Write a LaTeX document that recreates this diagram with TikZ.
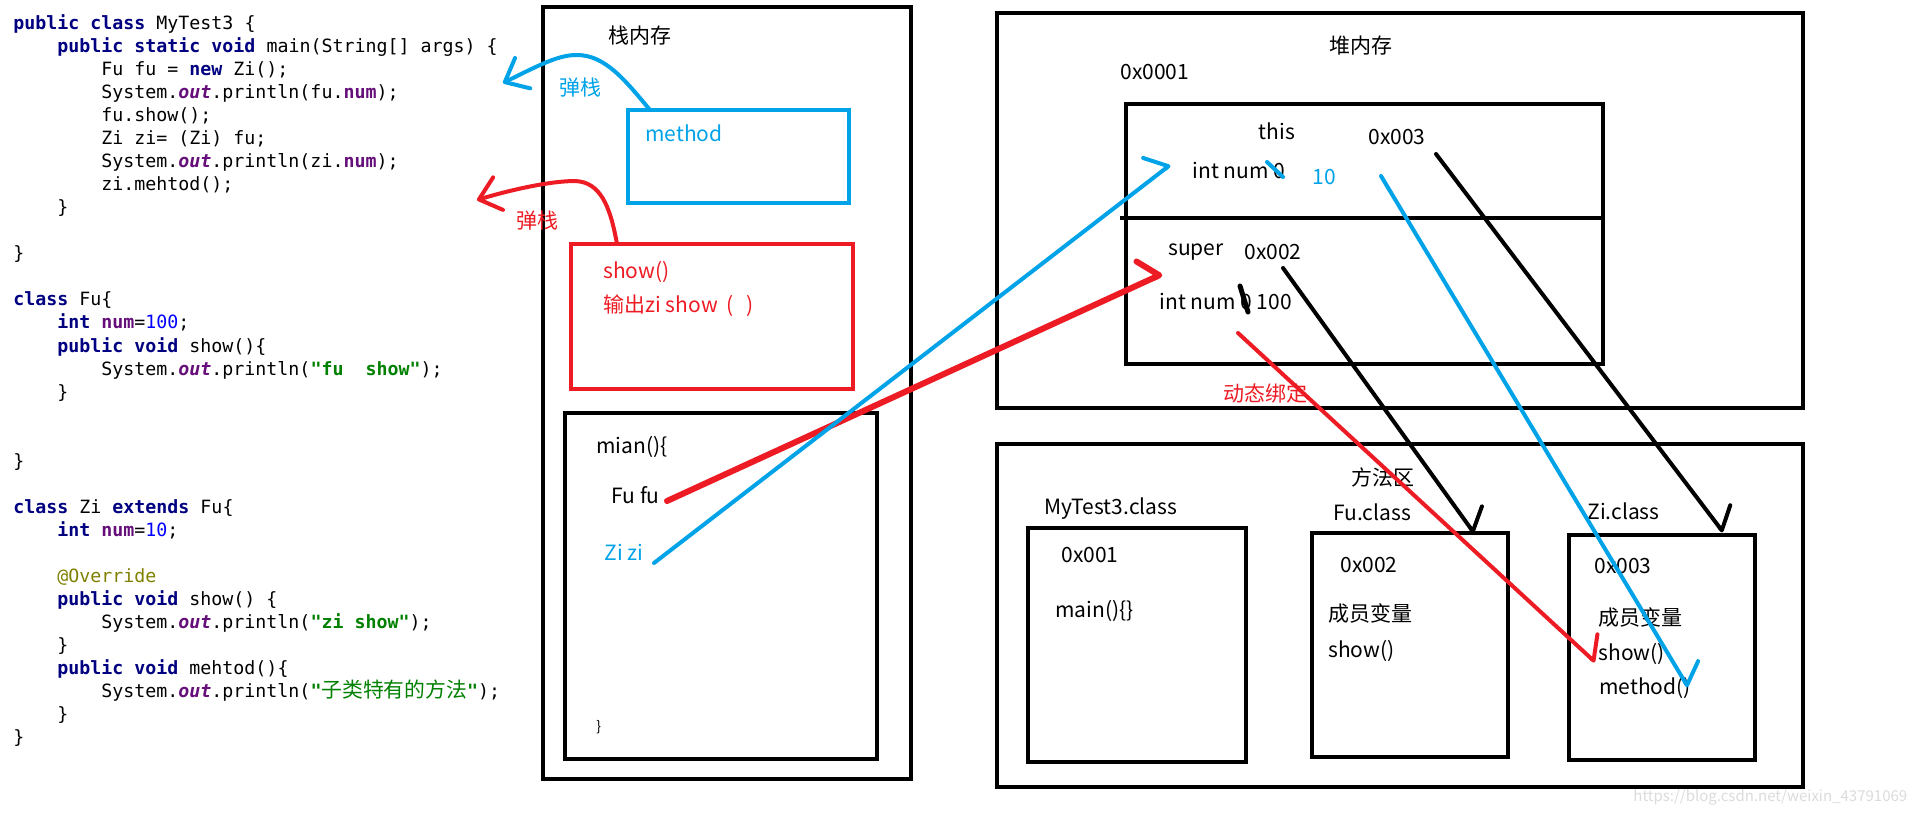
\documentclass[tikz,border=0pt]{standalone}
\usepackage{fontspec}
\usetikzlibrary{arrows.meta}

\newfontfamily\cjk{Noto Sans CJK SC}
\newfontfamily\codefont{DejaVu Sans Mono}

\definecolor{paintblue}{RGB}{0,162,232}
\definecolor{paintred}{RGB}{237,28,36}
\definecolor{kwnavy}{RGB}{0,0,128}
\definecolor{fieldpurple}{RGB}{102,14,122}
\definecolor{numblue}{RGB}{0,0,255}
\definecolor{strgreen}{RGB}{0,128,0}
\definecolor{annolive}{RGB}{128,128,0}

\newcommand{\jkw}[1]{\textcolor{kwnavy}{\bfseries #1}}
\newcommand{\jfield}[1]{\textcolor{fieldpurple}{\bfseries #1}}
\newcommand{\jstatic}[1]{\textcolor{fieldpurple}{\bfseries\itshape #1}}
\newcommand{\jnum}[1]{\textcolor{numblue}{#1}}
\newcommand{\jstr}[1]{\textcolor{strgreen}{\bfseries #1}}
\newcommand{\jann}[1]{\textcolor{annolive}{#1}}
\newcommand{\codeline}[3]{\node[codetext] (code#1) at ({13+44*#2},{24.5+23.03*#1}) {#3};}

\tikzset{
  frame/.style={draw, line width=2pt, inner sep=0pt, outer sep=0pt, anchor=north west},
  lbl/.style={font=\cjk\fontsize{10.5pt}{12pt}\selectfont, inner sep=0pt, text height=7.9pt, text depth=1.6pt},
  codetext/.style={font=\codefont\fontsize{9.14pt}{11pt}\selectfont, inner sep=0pt, anchor=west, text height=6.9pt, text depth=1.8pt},
  pen/.style={line width=2pt, line cap=round, line join=round},
  onebarb/.style={-{Straight Barb[harpoon, length=7.5pt, width=22pt, round]}},
  twobarb/.style={-{Straight Barb[length=10pt, width=17pt, round]}},
}

\begin{document}
\begin{tikzpicture}[x=0.5pt, y=-0.5pt]
  \useasboundingbox (0,0) rectangle (1914,814);

  \codeline{0}{0}{\jkw{public class} MyTest3 \{}
  \codeline{1}{1}{\jkw{public static void} main(String[] args) \{}
  \codeline{2}{2}{Fu fu = \jkw{new} Zi();}
  \codeline{3}{2}{System.\jstatic{out}.println(fu.\jfield{num});}
  \codeline{4}{2}{fu.show();}
  \codeline{5}{2}{Zi zi= (Zi) fu;}
  \codeline{6}{2}{System.\jstatic{out}.println(zi.\jfield{num});}
  \codeline{7}{2}{zi.mehtod();}
  \codeline{8}{1}{\}}
  \codeline{10}{0}{\}}
  \codeline{12}{0}{\jkw{class} Fu\{}
  \codeline{13}{1}{\jkw{int} \jfield{num}=\jnum{100};}
  \codeline{14}{1}{\jkw{public void} show()\{}
  \codeline{15}{2}{System.\jstatic{out}.println(\jstr{"fu\ \ show"});}
  \codeline{16}{1}{\}}
  \codeline{19}{0}{\}}
  \codeline{21}{0}{\jkw{class} Zi \jkw{extends} Fu\{}
  \codeline{22}{1}{\jkw{int} \jfield{num}=\jnum{10};}
  \codeline{24}{1}{\jann{@Override}}
  \codeline{25}{1}{\jkw{public void} show() \{}
  \codeline{26}{2}{System.\jstatic{out}.println(\jstr{"zi show"});}
  \codeline{27}{1}{\}}
  \codeline{28}{1}{\jkw{public void} mehtod()\{}
  \codeline{29}{2}{System.\jstatic{out}.println(\jstr{"{\cjk\mdseries\fontsize{10.4pt}{11pt}\selectfont 子类特有的方法}"});}
  \codeline{30}{1}{\}}
  \codeline{31}{0}{\}}

  \node[frame, minimum width=184pt, minimum height=386pt] (stack) at (543,7) {};
  \node[frame, draw=paintblue, minimum width=110.5pt, minimum height=46.5pt] (methodframe) at (628,110) {};
  \node[frame, draw=paintred, minimum width=141pt, minimum height=72.5pt] (showframe) at (571,244) {};
  \node[frame, minimum width=156pt, minimum height=173pt] (mainframe) at (565,413) {};

  \node[lbl] (stacktitle) at (640,37) {栈内存};
  \node[lbl, text=paintblue] (popblue) at (580,89) {弹栈};
  \node[lbl, text=paintred] (popred) at (537,222) {弹栈};
  \node[lbl, text=paintblue, anchor=west] (methodtxt) at (645,135) {method};
  \node[lbl, text=paintred, anchor=west] (showtxt) at (603,272) {show()};
  \node[lbl, text=paintred, anchor=west] (printtxt) at (603,306) {输出zi show\hspace{4.5pt}(\hspace{6pt})};
  \node[lbl, anchor=west] (maintxt) at (596,447) {mian()\{};
  \node[lbl, anchor=west] (fuvar) at (611,497) {Fu fu};
  \node[lbl, text=paintblue, anchor=west] (zivar) at (604,554) {Zi zi};
  \node[lbl, anchor=west, font=\cjk\fontsize{7pt}{8pt}\selectfont] (mainclose) at (596,725) {\}};

  \node[frame, minimum width=403pt, minimum height=197.5pt] (heap) at (997,13) {};
  \node[frame, minimum width=238.5pt, minimum height=130pt] (objframe) at (1126,104) {};
  \draw[line width=2pt] (1120,218) -- (1603,218);

  \node[lbl] (heaptitle) at (1361,47) {堆内存};
  \node[lbl, anchor=west] (objaddr) at (1120,73) {0x0001};
  \node[lbl] (thistxt) at (1277,133) {this};
  \node[lbl, anchor=west] (thisnum) at (1192,172) {int num 0};
  \node[lbl, text=paintblue] (tenval) at (1324,178) {10};
  \node[lbl, anchor=west] (thisaddr) at (1368,138) {0x003};
  \node[lbl] (supertxt) at (1196,249) {super};
  \node[lbl, anchor=west] (superaddr) at (1244,253) {0x002};
  \node[lbl, anchor=west] (supernum) at (1159,303) {int num 0 100};
  \node[lbl, text=paintred] (bindtxt) at (1265,395) {动态绑定};

  \node[frame, minimum width=403pt, minimum height=171.5pt] (methodarea) at (997,444) {};
  \node[frame, minimum width=109pt, minimum height=117pt] (mytestframe) at (1028,528) {};
  \node[frame, minimum width=98pt, minimum height=112pt] (fuframe) at (1312,533) {};
  \node[frame, minimum width=93pt, minimum height=112.5pt] (ziframe) at (1569,535) {};

  \node[lbl] (areatitle) at (1383,479) {方法区};
  \node[lbl, anchor=west] (mytestname) at (1044,508) {MyTest3.class};
  \node[lbl, anchor=west] (mytestaddr) at (1061,556) {0x001};
  \node[lbl, anchor=west] (mytestmain) at (1055,611) {main()\{\}};
  \node[lbl, anchor=west] (funame) at (1333,514) {Fu.class};
  \node[lbl, anchor=west] (fuaddr) at (1340,566) {0x002};
  \node[lbl, anchor=west] (fuvars) at (1328,615) {成员变量};
  \node[lbl, anchor=west] (fushow) at (1328,651) {show()};
  \node[lbl, anchor=west] (ziname) at (1587,513) {Zi.class};
  \node[lbl, anchor=west] (ziaddr) at (1594,567) {0x003};
  \node[lbl, anchor=west] (zivars) at (1598,619) {成员变量};
  \node[lbl, anchor=west] (zishow) at (1598,654) {show()};
  \node[lbl, anchor=west] (zimethod) at (1599,688) {method()};

  \node[lbl, anchor=west, text=black!14, font=\cjk\fontsize{7.5pt}{8pt}\selectfont] (watermark) at (1633,795) {https://blog.csdn.net/weixin\_43791069};

  \coordinate (fuRef) at (667,501);
  \coordinate (superIn) at (1162,274);
  \coordinate (ziRef) at (654,563);
  \coordinate (thisIn) at (1170,165);
  \coordinate (thisAddr) at (1436,154);
  \coordinate (ziTop) at (1723,532);
  \coordinate (superAddr) at (1283,268);
  \coordinate (fuTop) at (1474,533);
  \coordinate (tenRef) at (1381,176);
  \coordinate (ziMethod) at (1688,687);
  \coordinate (bindRef) at (1238,333);
  \coordinate (ziShow) at (1595,662);
  \coordinate (popBlueTip) at (503,83);
  \coordinate (popRedTip) at (477,200);

  \draw[pen, paintblue] (1267,162) -- (1283,177);
  \draw[pen, line width=2.5pt] (1240,286) -- (1248,312);

  \draw[pen, paintblue, twobarb] ([xshift=11pt]methodframe.north west) .. controls (625,80) and (605,55) .. (577,55) .. controls (560,55) and (545,62) .. (popBlueTip);
  \draw[pen, paintred, twobarb] ([xshift=23pt]showframe.north west) .. controls (610,205) and (600,182) .. (575,181) .. controls (550,181) and (510,190) .. (popRedTip);
  \draw[pen, paintred, line width=3pt, onebarb] (fuRef) -- (superIn);
  \draw[pen, paintblue, onebarb] (ziRef) -- (thisIn);
  \draw[pen, onebarb] (thisAddr) -- (ziTop);
  \draw[pen, onebarb] (superAddr) -- (fuTop);
  \draw[pen, paintblue, onebarb] (tenRef) -- (ziMethod);
  \draw[pen, paintred, onebarb] (bindRef) -- (ziShow);
\end{tikzpicture}
\end{document}
